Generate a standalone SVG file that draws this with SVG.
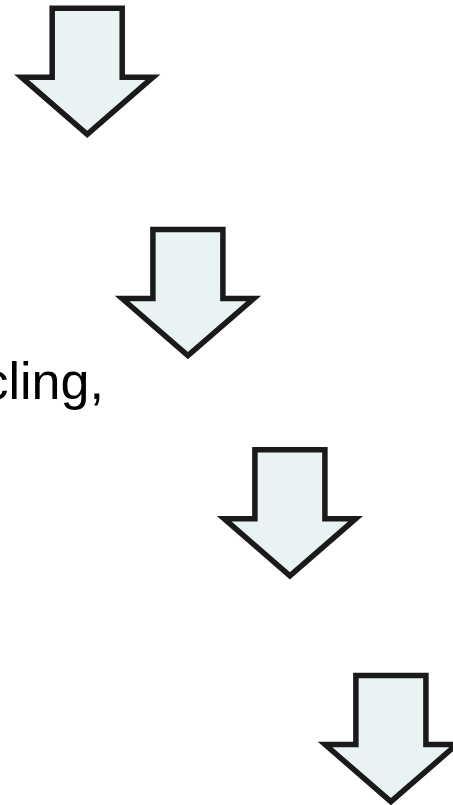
<svg xmlns="http://www.w3.org/2000/svg" width="453" height="805" viewBox="0 0 453 805">
  <style>
    .arrow { fill: #EAF3F4; stroke: #1A1A1A; stroke-width: 5.5; stroke-linejoin: miter; stroke-miterlimit: 10; }
    .label { font-family: "Liberation Sans", Arial, sans-serif; font-size: 52px; fill: #000000; }
  </style>
  <defs>
    <path id="downArrow" class="arrow" d="M52.2,8.3 L122.2,8.3 L122.2,77.2 L153,77.2 L87.2,134.4 L21.4,77.2 L52.2,77.2 Z"/>
  </defs>
  <rect x="0" y="0" width="453" height="805" fill="#FFFFFF"/>
  <g id="arrow1"><use href="#downArrow"/></g>
  <g id="arrow2"><use href="#downArrow" transform="translate(100.7,221.3)"/></g>
  <g id="text1"><text class="label" x="-17.5" y="399">cling,</text></g>
  <g id="arrow3"><use href="#downArrow" transform="translate(202.7,441.5)"/></g>
  <g id="arrow4"><use href="#downArrow" transform="translate(303.7,667.3)"/></g>
  <g id="connectors"></g>
</svg>
